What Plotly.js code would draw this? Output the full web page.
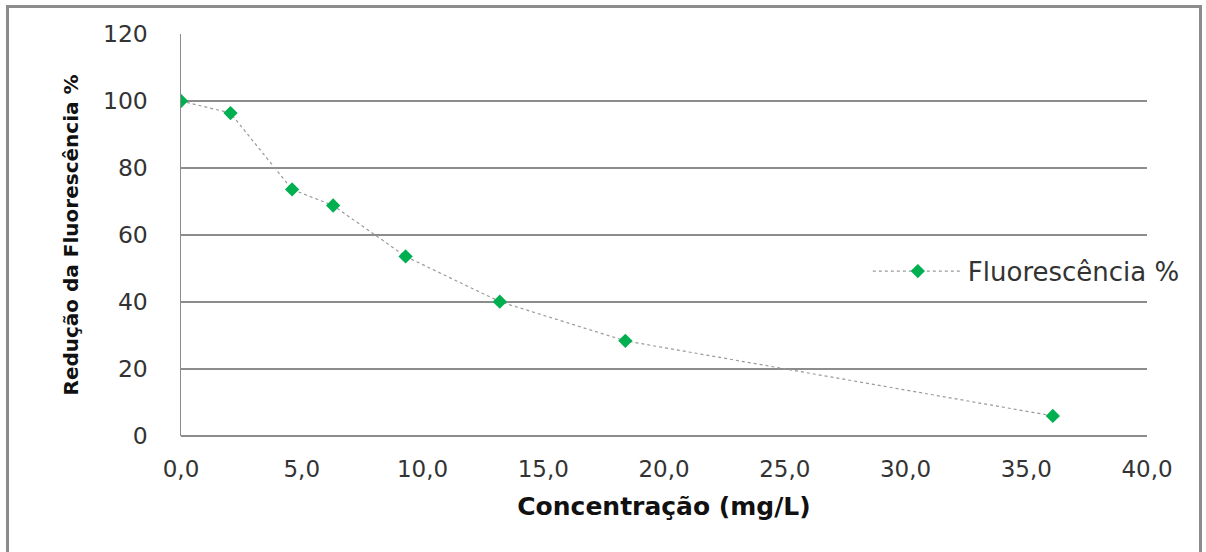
<!DOCTYPE html>
<html>
<head>
<meta charset="utf-8">
<script src="https://cdn.plot.ly/plotly-3.0.1.min.js"></script>
<style>
  html, body { margin: 0; padding: 0; background: #fff; }
  #wrap { position: relative; width: 1206px; height: 552px; overflow: hidden; }
  #frame { position: absolute; left: 6px; top: 5px; width: 1196px; height: 600px; border: 3px solid #8c8c8c; box-sizing: border-box; pointer-events: none; z-index: 5; }
  #chart { position: absolute; left: 0; top: 0; width: 1206px; height: 552px; }
</style>
</head>
<body>
<div id="wrap">
  <div id="chart"></div>
  <div id="frame"></div>
</div>
<script>
const concentration = [0.0, 2.05, 4.6, 6.3, 9.3, 13.2, 18.4, 36.1];
const fluorescence = [100, 96.4, 73.6, 68.8, 53.6, 40.1, 28.4, 6.0];
const seriesName = 'Fluorescência %';
const xTitle = 'Concentração (mg/L)';
const yTitle = 'Redução da Fluorescência %';

const trace = {
  x: concentration,
  y: fluorescence,
  type: 'scatter',
  mode: 'lines+markers',
  name: seriesName,
  line: { color: '#9a9a9a', width: 1.2, dash: 'dot' },
  marker: { symbol: 'diamond', color: '#00b050', size: 11 }
};

const layout = {
  width: 1206,
  height: 552,
  paper_bgcolor: '#ffffff',
  plot_bgcolor: '#ffffff',
  separators: ',.',
  margin: { l: 181, r: 59, t: 34, b: 116 },
  font: { family: 'DejaVu Sans, sans-serif', color: '#333333', size: 22 },
  showlegend: true,
  legend: {
    x: 0.711, xanchor: 'left', y: 0.41, yanchor: 'middle',
    itemwidth: 90,
    font: { family: 'DejaVu Sans, sans-serif', size: 26, color: '#333333' },
    bgcolor: 'rgba(0,0,0,0)'
  },
  xaxis: {
    range: [0, 40], dtick: 5, tick0: 0, tickformat: '.1f',
    showgrid: false, zeroline: false,
    showline: false,
    ticks: '', ticklabelstandoff: 17,
    tickfont: { size: 23, color: '#333333' },
    title: { text: xTitle, font: { family: 'DejaVu Sans, sans-serif', size: 25, color: '#111111', weight: 'bold' }, standoff: 16 }
  },
  yaxis: {
    range: [0, 120], dtick: 20, tick0: 0,
    showgrid: true, gridcolor: '#8c8c8c', gridwidth: 1.5,
    zeroline: true, zerolinecolor: '#8c8c8c', zerolinewidth: 1.5,
    showline: true, linecolor: '#8c8c8c', linewidth: 1.5,
    ticks: '', ticklabelstandoff: 27,
    tickfont: { size: 23.5, color: '#333333' },
    title: { text: yTitle, font: { family: 'DejaVu Sans, sans-serif', size: 20, color: '#111111', weight: 'bold' }, standoff: 19 }
  }
};

Plotly.newPlot('chart', [trace], layout, { displayModeBar: false, staticPlot: true });
</script>
</body>
</html>
